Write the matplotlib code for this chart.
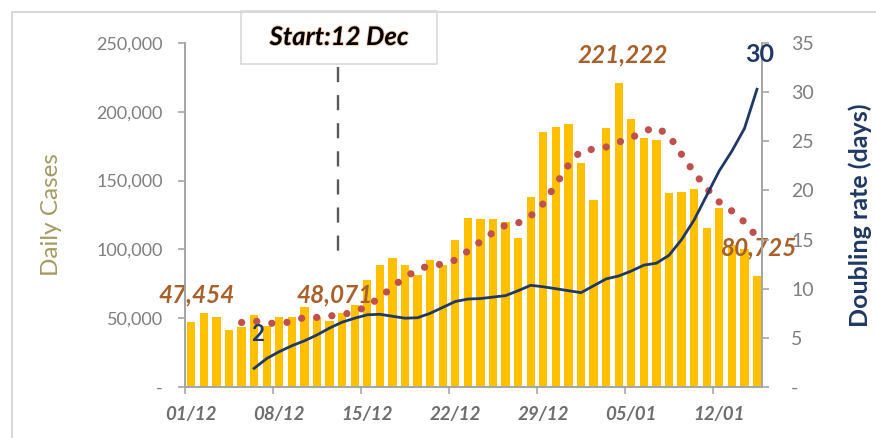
import matplotlib.pyplot as plt
from matplotlib.patches import Rectangle
from matplotlib.ticker import FuncFormatter, FixedLocator
import matplotlib.patheffects as pe

plt.rcParams['font.family'] = ['Lato', 'DejaVu Sans']

# daily cases, 01/12 .. 15/01
daily_cases = [47454, 53600, 50700, 41400, 43400, 52100, 44300, 50700, 50700, 57900,
               51100, 48071, 53500, 59600, 77800, 88700, 93500, 88700, 81400, 92300,
               88700, 106800, 123000, 121900, 121900, 120100, 108000, 138300, 185500, 189200,
               190900, 163000, 135900, 188400, 221222, 194500, 180700, 179500, 141200, 141700,
               143700, 115300, 129900, 103000, 100000, 80725]

# rolling average (starts on day index 4)
avg_start = 4
avg_cases = [46900, 48000, 46500, 46100, 47600, 50600, 50600, 51600, 52700, 54500,
             58900, 65000, 72700, 79900, 85000, 88700, 89200, 92300, 98800, 105700,
             112300, 117700, 119200, 124300, 133300, 147200, 161300, 171800, 172800, 174400,
             178000, 181000, 186000, 188600, 182800, 169000, 155900, 144300, 134400, 127900,
             119900, 109000]

# doubling rate in days (starts on day index 5)
dbl_start = 5
doubling = [1.9, 2.9, 3.6, 4.2, 4.7, 5.3, 6.0, 6.6, 7.0, 7.35,
            7.4, 7.2, 7.0, 7.05, 7.5, 8.1, 8.7, 8.95, 9.0, 9.15,
            9.3, 9.8, 10.35, 10.2, 10.0, 9.8, 9.6, 10.3, 11.0, 11.3,
            11.8, 12.4, 12.6, 13.4, 15.0, 17.0, 19.5, 22.0, 24.0, 26.3,
            30.3]

tick_labels = ['01/12', '08/12', '15/12', '22/12', '29/12', '05/01', '12/01']
start_day = 11.67

# (label x, label y, text)
case_labels = [(0.4, 66900, '47,454'), (11.4, 66900, '48,071'),
               (34.3, 241000, '221,222'), (45.2, 101000, '80,725')]

gray = '#7F7F7F'
navy = '#1F3864'
brown = '#A9602A'

fig = plt.figure(figsize=(8.76, 4.38), dpi=100)
ax = fig.add_axes([0.2112, 0.1164, 0.6587, 0.7854])
ax2 = ax.twinx()

x = list(range(len(daily_cases)))
ax.bar(x, daily_cases, width=0.66, color='#FFC000', zorder=2)

x_avg = list(range(avg_start, avg_start + len(avg_cases)))
ax.plot(x_avg, avg_cases, color='#C0504D', lw=5.2, linestyle=(0, (0.01, 2.1)),
        dash_capstyle='round', zorder=3)

x_dbl = list(range(dbl_start, dbl_start + len(doubling)))
ax2.plot(x_dbl, doubling, color=navy, lw=2.0, zorder=4)

ax.set_xlim(-0.5, 45.4)
ax.set_ylim(0, 250000)
ax2.set_ylim(0, 35)
ax.set_yticks(range(0, 250001, 50000))
ax2.set_yticks(range(0, 36, 5))
ax.yaxis.set_major_formatter(FuncFormatter(lambda v, p: '-' if v == 0 else f'{v:,.0f}'))
ax2.yaxis.set_major_formatter(FuncFormatter(lambda v, p: '-' if v == 0 else f'{v:.0f}'))

# labels sit on the bars, tick marks on the week boundaries
ax.set_xticks([7 * k for k in range(len(tick_labels))])
ax.set_xticklabels(tick_labels, fontsize=13.5, fontweight='bold', fontstyle='italic', color='#6E6E6E')
ax.xaxis.set_minor_locator(FixedLocator([7 * k - 0.5 for k in range(len(tick_labels))]))
ax.tick_params(axis='x', which='major', length=0, pad=14)
ax.tick_params(axis='x', which='minor', length=5, width=1.2, color='#A6A6A6')

ax.tick_params(axis='y', length=5, width=1.2, color='#A6A6A6', labelsize=13, labelcolor=gray, pad=11)
ax2.tick_params(axis='y', length=5, width=1.2, color='#A6A6A6', labelsize=14, labelcolor=gray, pad=16)

for a in (ax, ax2):
    a.spines['top'].set_visible(False)
    for s in ('left', 'right', 'bottom'):
        a.spines[s].set_color('#A6A6A6')
        a.spines[s].set_linewidth(1.3)
# keep the doubling line above the bars
ax.set_zorder(1)
ax2.set_zorder(2)
ax2.patch.set_visible(False)

ax.set_ylabel('Daily Cases', fontsize=17.5, color='#A39A62')
ax.yaxis.set_label_coords(-0.213, 0.5)
ax2.set_ylabel('Doubling rate (days)', fontsize=18, fontweight='bold', color=navy)
ax2.yaxis.set_label_coords(1.149, 0.5)

for xp, y, txt in case_labels:
    ax.text(xp, y, txt, fontsize=17.5, fontweight='bold', fontstyle='italic', color=brown,
            ha='center', va='center', zorder=6, clip_on=False)

ax2.text(5.3, 5.3, f'{doubling[0]:.0f}', fontsize=16, fontweight='bold', color=navy,
         ha='center', va='center', zorder=6)
ax2.text(45.2, 33.8, f'{doubling[-1]:.0f}', fontsize=18, fontweight='bold', color=navy,
         ha='center', va='center', zorder=6, clip_on=False)

# start marker
ax.plot([start_day, start_day], [232500, 92300], color='#595959', lw=1.7,
        linestyle=(0, (6.4, 5.5)), zorder=5)

fig.patches.append(Rectangle((0.2751, 0.8539), 0.2237, 0.1217, transform=fig.transFigure,
                             facecolor='white', edgecolor='#D9D9D9', lw=1.2))
fig.text(0.387, 0.9155, 'Start:12 Dec', fontsize=18.5, fontweight='bold', fontstyle='italic',
         color='black', ha='center', va='center',
         path_effects=[pe.withStroke(linewidth=1.2, foreground='#F8CBAD')])

# outer chart frame
fig.patches.append(Rectangle((0.0137, -0.1), 1.2, 1.0726, transform=fig.transFigure,
                             fill=False, edgecolor='#D9D9D9', lw=1.5))

fig.savefig('out.png', dpi=100)
